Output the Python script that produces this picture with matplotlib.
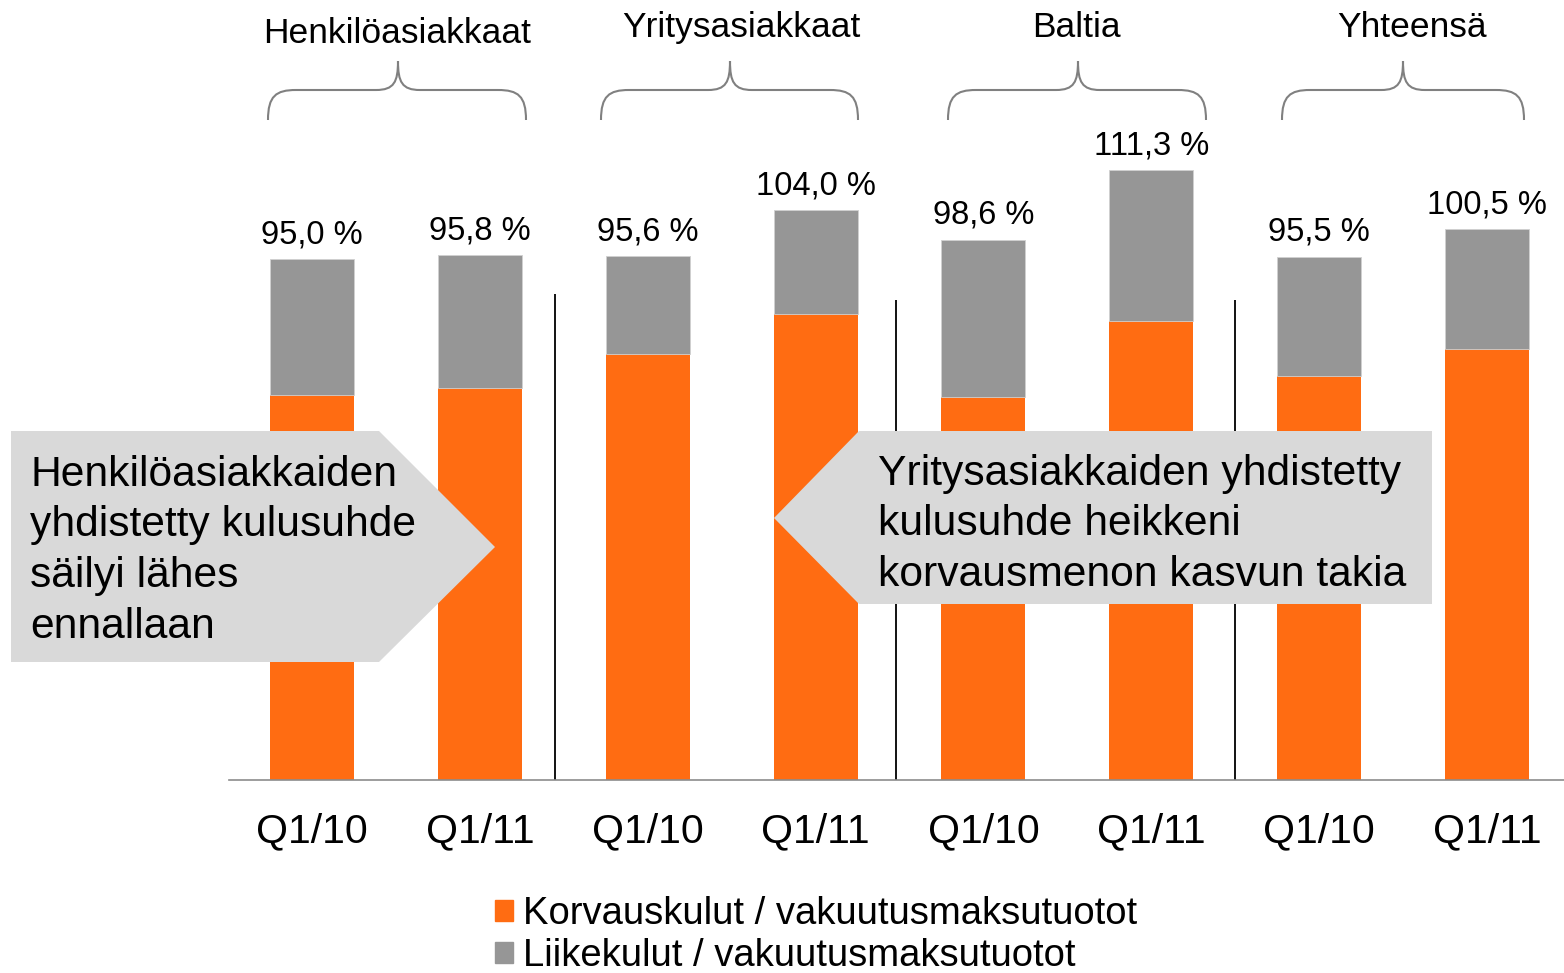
import matplotlib
matplotlib.use("Agg")
from matplotlib import pyplot as plt, patches
from matplotlib.path import Path
from matplotlib.transforms import Affine2D
import numpy as np

plt.rcParams['font.family'] = ['Liberation Sans', 'DejaVu Sans']

groups = ['Henkilöasiakkaat', 'Yritysasiakkaat', 'Baltia', 'Yhteensä']
quarters = ['Q1/10', 'Q1/11', 'Q1/10', 'Q1/11', 'Q1/10', 'Q1/11', 'Q1/10', 'Q1/11']
totals = [95.0, 95.8, 95.6, 104.0, 98.6, 111.3, 95.5, 100.5]
claims = [70.2, 71.6, 77.7, 85.1, 69.9, 83.8, 73.7, 78.6]
legend_labels = ['Korvauskulut / vakuutusmaksutuotot', 'Liikekulut / vakuutusmaksutuotot']
callout_left = 'Henkilöasiakkaiden\nyhdistetty kulusuhde\nsäilyi lähes\nennallaan'
callout_right = 'Yritysasiakkaiden yhdistetty\nkulusuhde heikkeni\nkorvausmenon kasvun takia'

ORANGE = '#ff6c12'
GREY = '#969696'

W, H = 1564, 973
fig = plt.figure(figsize=(W / 100, H / 100), dpi=100)
# pixel coords measured from the top-left corner
px = Affine2D().scale(1 / W, -1 / H).translate(0, 1) + fig.transFigure

ax = fig.add_axes([229 / W, (H - 780) / H, (W - 229) / W, 780 / H])
x = np.arange(len(totals))
expenses = np.array(totals) - np.array(claims)

ax.bar(x, claims, width=0.5, color=ORANGE, zorder=2)
ax.bar(x, expenses, width=0.5, bottom=claims, color=GREY,
       edgecolor='#d0d0d0', linewidth=0.6, zorder=2)

for xi, t in zip(x, totals):
    ax.annotate(f'{t:.1f}'.replace('.', ',') + ' %', xy=(xi, t),
                xytext=(0, 11.5), textcoords='offset points',
                ha='center', va='baseline', fontsize=23.5)

ax.vlines([1.45, 3.48, 5.5], 0, [88.7, 87.6, 87.6], color='black', lw=1.3, zorder=1)

ax.set_xlim(-0.4945, 7.459)
ax.set_ylim(0, 780 / 5.48)
ax.set_xticks(x)
ax.set_xticklabels(quarters, fontsize=29.5)
ax.tick_params(axis='x', length=0, pad=23)
ax.set_yticks([])
for s in ['left', 'right', 'top']:
    ax.spines[s].set_visible(False)
ax.spines['bottom'].set_color('#8c8c8c')
ax.spines['bottom'].set_linewidth(1.2)


def brace(x0, x1, xc, ytop=61, ymid=90, ybot=120):
    r = 28
    verts = [(x0, ybot), (x0, ymid + 6), (x0 + 8, ymid), (x0 + r, ymid),
             (xc - 22, ymid),
             (xc - 4, ymid), (xc, ymid - 8), (xc, ytop),
             (xc, ymid - 8), (xc + 4, ymid), (xc + 22, ymid),
             (x1 - r, ymid),
             (x1 - 8, ymid), (x1, ymid + 6), (x1, ybot)]
    codes = [Path.MOVETO, Path.CURVE4, Path.CURVE4, Path.CURVE4,
             Path.LINETO,
             Path.CURVE4, Path.CURVE4, Path.CURVE4,
             Path.CURVE4, Path.CURVE4, Path.CURVE4,
             Path.LINETO,
             Path.CURVE4, Path.CURVE4, Path.CURVE4]
    fig.patches.append(patches.PathPatch(Path(verts, codes), fill=False,
                                         edgecolor='#808080', lw=1.5, transform=px))


brace(268, 526, 398)
brace(601, 858, 730)
brace(948, 1206, 1078)
brace(1282, 1524, 1403)

label_pos = [(397, 42.7), (741, 37), (1076, 36.7), (1412, 37.3)]
for g, (gx, gy) in zip(groups, label_pos):
    fig.text(gx, gy, g, transform=px, ha='center', va='baseline', fontsize=25.5)

# callouts
left_poly = [(11, 431), (379, 431), (495, 547), (379, 662), (11, 662)]
right_poly = [(1432, 431), (859, 431), (774, 518), (859, 604), (1432, 604)]
for poly in (left_poly, right_poly):
    fig.patches.append(patches.Polygon(poly, closed=True, facecolor='#d9d9d9',
                                       edgecolor='none', transform=px, zorder=5))
# va='baseline' on multi-line text anchors the last line
fig.text(30, 483 + 3 * 51.5, callout_left, transform=px, ha='left', va='baseline',
         fontsize=30.7, linespacing=1.34, zorder=6)
fig.text(878, 483 + 2 * 51.5, callout_right, transform=px, ha='left', va='baseline',
         fontsize=30.7, linespacing=1.34, zorder=6)

handles = [patches.Patch(color=ORANGE), patches.Patch(color=GREY)]
fig.legend(handles, legend_labels, loc='upper left',
           bbox_to_anchor=(495 / W, 1 - 896 / H), frameon=False,
           fontsize=27.5, handlelength=0.47, handleheight=0.47,
           handletextpad=0.26, labelspacing=0.17, borderpad=0, borderaxespad=0)

fig.savefig('out.png', dpi=100)
